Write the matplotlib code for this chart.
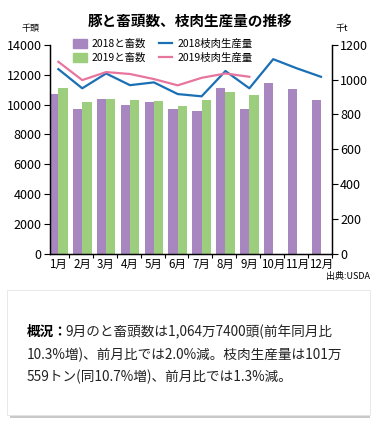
import numpy as np
import matplotlib
matplotlib.use("Agg")
import matplotlib.pyplot as plt
from matplotlib.patches import Rectangle, Patch
from matplotlib.lines import Line2D

plt.rcParams['font.family'] = ['Noto Sans CJK JP', 'DejaVu Sans']

months = ['1月', '2月', '3月', '4月', '5月', '6月', '7月', '8月', '9月', '10月', '11月', '12月']
heads_2018 = [10700, 9700, 10350, 9950, 10150, 9700, 9550, 11100, 9700, 11450, 11050, 10300]
heads_2019 = [11100, 10150, 10350, 10300, 10230, 9900, 10300, 10830, 10650]
meat_2018 = [1060, 950, 1035, 968, 984, 917, 904, 1049, 950, 1117, 1064, 1016]
meat_2019 = [1102, 997, 1043, 1032, 1003, 967, 1010, 1035, 1016]

c_purple = '#A886C0'
c_green = '#9CCE7E'
c_blue = '#1B6FB5'
c_pink = '#E8759E'

W, H = 382, 429
fig = plt.figure(figsize=(W / 100, H / 100), dpi=100)

def fx(px):
    return px / W

def fy(py):
    return 1 - py / H

ax = fig.add_axes([fx(50), fy(254), fx(331.7) - fx(50), fy(44.7) - fy(254)])
ax2 = ax.twinx()

x = np.arange(len(months))
bw = 0.39
ax.bar(x - bw / 2, heads_2018, bw, color=c_purple, zorder=2)
ax.bar(x[:len(heads_2019)] + bw / 2, heads_2019, bw, color=c_green, zorder=2)
ax2.plot(x, meat_2018, color=c_blue, lw=1.6)
ax2.plot(x[:len(meat_2019)], meat_2019, color=c_pink, lw=1.6)

ax.set_xlim(-0.35, 11.45)
ax.set_ylim(0, 14000)
ax.set_yticks(range(0, 14001, 2000))
ax2.set_ylim(0, 1200)
ax2.set_yticks(range(0, 1201, 200))
ax.set_xticks(x)
ax.set_xticklabels(months)
ax.tick_params(axis='x', length=0, labelsize=8.3, pad=3)
ax.set_xticks(x + 0.45, minor=True)
ax.tick_params(axis='x', which='minor', length=3, width=0.8)
ax.tick_params(axis='y', labelsize=9, length=4, width=0.8, pad=2)
ax2.tick_params(axis='y', labelsize=9, length=4, width=0.8, pad=2)
for a in (ax, ax2):
    a.spines['top'].set_visible(False)
    for s in ('left', 'right', 'bottom'):
        a.spines[s].set_linewidth(0.9)

handles = [Patch(color=c_purple), Patch(color=c_green),
           Line2D([], [], color=c_blue, lw=1.6), Line2D([], [], color=c_pink, lw=1.6)]
labels = ['2018と畜数', '2019と畜数', '2018枝肉生産量', '2019枝肉生産量']
fig.legend(handles, labels, ncol=2, loc='center left',
           bbox_to_anchor=(fx(68), fy(51)), frameon=False, fontsize=7.5,
           handlelength=1.3, handleheight=0.9, handletextpad=0.5,
           columnspacing=1.2, labelspacing=0.35, borderpad=0)

fig.text(fx(190), fy(21), '豚と畜頭数、枝肉生産量の推移', ha='center', va='center',
         fontsize=10.5, fontweight='bold')
fig.text(fx(30), fy(28), '千頭', ha='center', va='center', fontsize=6.5)
fig.text(fx(342), fy(28), '千t', ha='center', va='center', fontsize=6.5)
fig.text(fx(370), fy(277), '出典:USDA', ha='right', va='center', fontsize=6.5)

# summary box with shadow
fig.patches.append(Rectangle((fx(10), fy(418)), fx(370) - fx(10), fy(293) - fy(418),
                             transform=fig.transFigure, facecolor='#C8C8C8',
                             edgecolor='none', zorder=0))
fig.patches.append(Rectangle((fx(7), fy(415)), fx(370) - fx(7), fy(290) - fy(415),
                             transform=fig.transFigure, facecolor='white',
                             edgecolor='#E4E4E4', lw=0.6, zorder=1))

tc = '#222222'
fig.text(fx(27), fy(331.5), '概況：', fontsize=9.8, fontweight='bold', va='center', color='black')
fig.text(fx(65), fy(331.5), '9月のと畜頭数は1,064万7400頭(前年同月比', fontsize=9.8, va='center', color=tc)
fig.text(fx(27), fy(355), '10.3%増)、前月比では2.0%減。枝肉生産量は101万', fontsize=9.8, va='center', color=tc)
fig.text(fx(27), fy(377), '559トン(同10.7%増)、前月比では1.3%減。', fontsize=9.8, va='center', color=tc)

fig.savefig('out.png', dpi=100)
